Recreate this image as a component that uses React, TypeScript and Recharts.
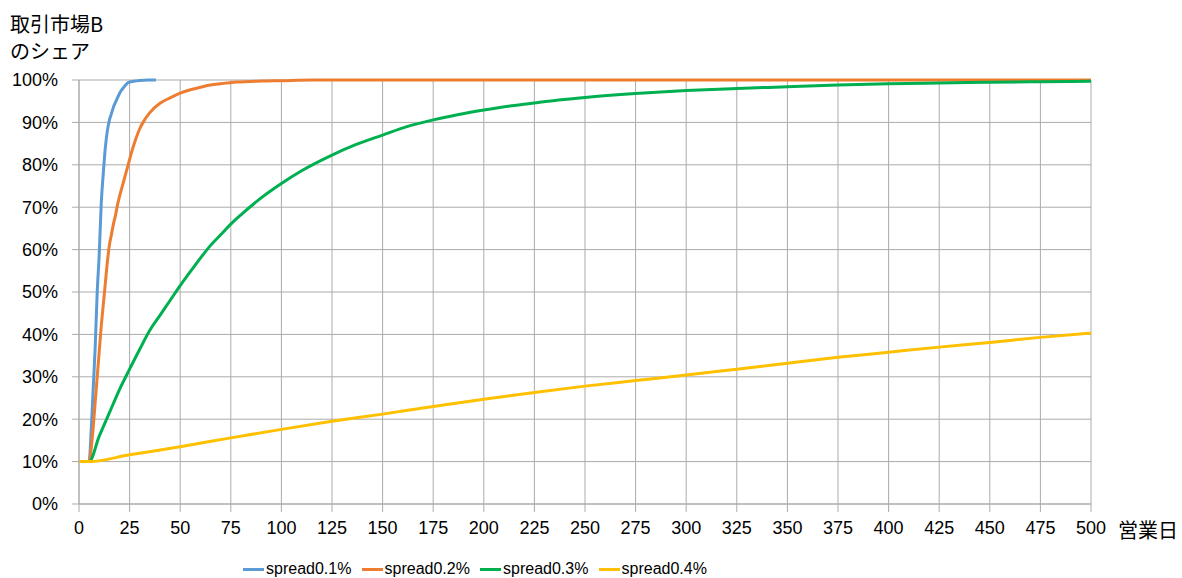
import { LineChart, Line, XAxis, YAxis, CartesianGrid } from "recharts";

const FONT = "'Liberation Sans', 'Noto Sans CJK JP', sans-serif";
const CJK = "'Noto Sans CJK JP', sans-serif";
const GRID = "#ababab";

// 営業日 ticks and share ticks (%)
const dayTicks = [0, 25, 50, 75, 100, 125, 150, 175, 200, 225, 250, 275, 300, 325, 350, 375, 400, 425, 450, 475, 500];
const shareTicks = [0, 10, 20, 30, 40, 50, 60, 70, 80, 90, 100];

const seriesNames = ["spread0.1%", "spread0.2%", "spread0.3%", "spread0.4%"];
const seriesColors = ["#5b9bd5", "#ed7d31", "#00b050", "#ffc000"];

const days01 = [0, 5, 6, 7, 8, 9, 10, 11, 12, 13, 14, 15, 16, 17, 18, 19, 20, 21, 22, 23, 24, 25, 27, 30, 34, 38];
const share01 = [10, 10, 17, 27, 37, 50, 59, 71, 78, 84, 88, 90.5, 92, 93.6, 94.7, 95.8, 96.8, 97.6, 98.2, 98.8, 99.3, 99.5, 99.7, 99.9, 100, 100];

const days02 = [0, 5, 6, 7, 8, 9, 10, 11, 12, 13, 14, 15, 16, 17, 18, 19, 20, 22, 24, 26, 28, 30, 32, 35, 40, 45, 50, 55, 60, 65, 70, 78, 90, 100, 115, 500];
const share02 = [10, 10, 13, 18, 24, 30, 36, 42, 47, 52, 57, 61, 63.5, 66, 68, 70.5, 72.5, 76, 79.5, 83, 86, 88.5, 90.3, 92.3, 94.5, 95.8, 96.9, 97.7, 98.3, 98.8, 99.1, 99.5, 99.75, 99.85, 100, 100];

const days03 = [0, 5, 10, 15, 20, 25, 30, 35, 40, 45, 50, 55, 60, 65, 70, 75, 80, 90, 100, 110, 125, 137, 150, 162, 175, 187, 200, 212, 225, 237, 250, 275, 300, 325, 350, 375, 400, 425, 450, 475, 500];
const share03 = [10, 10, 16, 21.5, 27, 31.8, 36.5, 41, 44.5, 48, 51.5, 54.8, 58, 61, 63.5, 66, 68.2, 72.2, 75.6, 78.6, 82.3, 84.8, 87, 89, 90.6, 91.8, 92.9, 93.8, 94.6, 95.3, 95.9, 96.8, 97.5, 98, 98.4, 98.8, 99.1, 99.3, 99.45, 99.6, 99.7];

const days04 = [0, 5, 25, 50, 75, 100, 125, 150, 175, 200, 225, 250, 275, 300, 325, 350, 375, 400, 425, 450, 475, 500];
const share04 = [10, 10, 11.6, 13.5, 15.6, 17.6, 19.5, 21.2, 23, 24.7, 26.3, 27.8, 29.1, 30.4, 31.8, 33.2, 34.6, 35.8, 37, 38.1, 39.3, 40.3];

const toRows = (days: number[], share: number[]) => days.map((d, i) => ({ day: d, share: share[i] }));
const seriesData = [toRows(days01, share01), toRows(days02, share02), toRows(days03, share03), toRows(days04, share04)];

export default function App() {
  const tick = { fill: "#000", fontSize: 18, fontFamily: FONT };
  return (
    <div style={{ position: "absolute", left: 0, top: 0, width: 1182, height: 578, background: "#fff", fontFamily: FONT, overflow: "hidden" }}>
      <div style={{ position: "absolute", left: 10, top: 14, fontSize: 20, lineHeight: "20px", fontFamily: CJK }}>取引市場B</div>
      <div style={{ position: "absolute", left: 10, top: 41, fontSize: 20, lineHeight: "20px", fontFamily: CJK }}>のシェア</div>
      <LineChart width={1182} height={578} data={seriesData[0]} margin={{ top: 80, right: 91, left: 0, bottom: 34 }}>
        <CartesianGrid stroke={GRID} strokeWidth={1} />
        <XAxis
          type="number"
          dataKey="day"
          domain={[0, 500]}
          ticks={dayTicks}
          interval={0}
          height={40}
          tick={tick}
          tickSize={8}
          tickMargin={9}
          stroke={GRID}
          allowDataOverflow
        />
        <YAxis
          type="number"
          domain={[0, 100]}
          ticks={shareTicks}
          interval={0}
          width={79}
          tick={tick}
          tickSize={7}
          tickMargin={14}
          stroke={GRID}
          tickFormatter={(v: number) => `${v}%`}
        />
        {seriesData.map((rows, i) => (
          <Line
            key={seriesNames[i]}
            data={rows}
            dataKey="share"
            name={seriesNames[i]}
            type="monotone"
            stroke={seriesColors[i]}
            strokeWidth={3}
            dot={false}
            activeDot={false}
            isAnimationActive={false}
          />
        ))}
      </LineChart>
      <div style={{ position: "absolute", left: 1118, top: 515, fontSize: 20, fontFamily: CJK }}>営業日</div>
      <div style={{ position: "absolute", left: 243, top: 560, height: 18, display: "flex", fontSize: 16, lineHeight: "18px" }}>
        {seriesNames.map((name, i) => (
          <div key={name} style={{ width: 118.5, display: "flex", alignItems: "center" }}>
            <span style={{ display: "inline-block", width: 21, height: 3, background: seriesColors[i], marginRight: 2 }} />
            <span>{name}</span>
          </div>
        ))}
      </div>
    </div>
  );
}
